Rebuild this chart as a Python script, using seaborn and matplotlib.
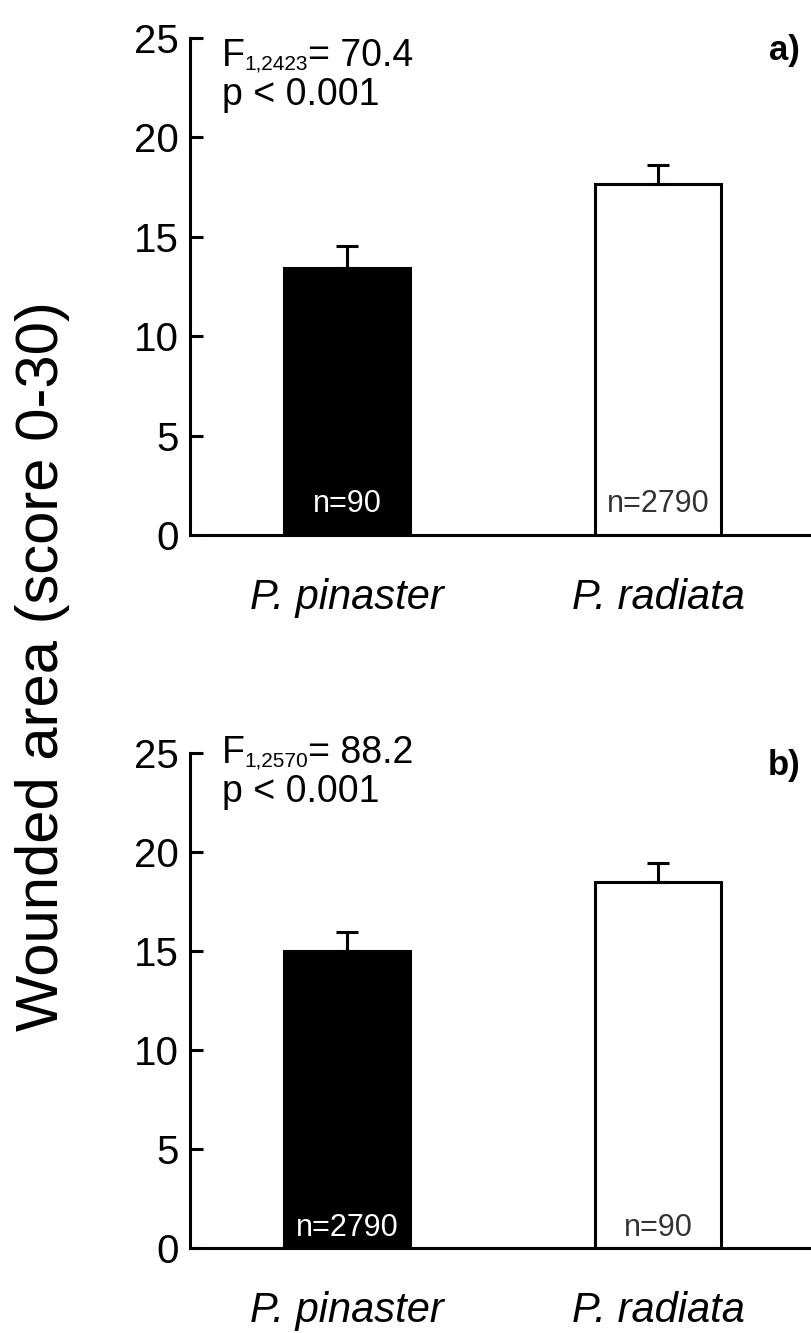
import matplotlib
matplotlib.use("Agg")
import matplotlib.pyplot as plt
import seaborn as sns
import pandas as pd

# data
species = ["P. pinaster", "P. radiata"]
bar_colors = ["black", "white"]
n_color = ["white", "#333333"]

mean_a = [13.45, 17.65]
upper_a = [14.55, 18.6]
n_a = ["n=90", "n=2790"]
sub_a = "1,2423"
val_a = "= 70.4"

mean_b = [15.0, 18.5]
upper_b = [15.97, 19.45]
n_b = ["n=2790", "n=90"]
sub_b = "1,2570"
val_b = "= 88.2"

sns.set_style("white")
plt.rcParams["font.family"] = ["Liberation Sans", "DejaVu Sans"]
for key in ["text.color", "axes.labelcolor", "xtick.color", "ytick.color"]:
    plt.rcParams[key] = "black"


def panel(ax, means, uppers, ns, n_y, sub, val, tag, f_y, p_y):
    df = pd.DataFrame({"species": species, "mean": means})
    sns.barplot(data=df, x="species", y="mean", hue="species",
                palette=bar_colors, edgecolor="black", linewidth=2.2,
                width=0.405, legend=False, ax=ax)
    errs = [u - m for u, m in zip(uppers, means)]
    ax.errorbar(range(len(species)), means, yerr=[[0] * len(errs), errs],
                fmt="none", ecolor="black", elinewidth=2.2, capsize=8,
                capthick=2.2)
    for i, txt in enumerate(ns):
        ax.text(i, n_y, txt, ha="center", va="baseline", fontsize=22,
                color=n_color[i])
    ax.set_ylim(0, 25)
    ax.set_xlim(-0.505, 1.495)
    ax.set_yticks([0, 5, 10, 15, 20, 25])
    ax.set_xlabel("")
    ax.set_ylabel("")
    ax.tick_params(axis="y", direction="in", length=9, width=2.2,
                   labelsize=29, pad=8, left=True)
    ax.tick_params(axis="x", length=0, labelsize=30, pad=31)
    for lab in ax.get_xticklabels():
        lab.set_style("italic")
    for s in ["top", "right"]:
        ax.spines[s].set_visible(False)
    for s in ["left", "bottom"]:
        ax.spines[s].set_linewidth(2.2)
        ax.spines[s].set_color("black")

    # F statistic with a small subscript, then p value
    t1 = ax.text(0.051, f_y, "F", transform=ax.transAxes, ha="left",
                 va="baseline", fontsize=27)
    t2 = ax.annotate(sub, xy=(1, 0), xycoords=t1, ha="left", va="bottom",
                     fontsize=15)
    ax.annotate(val, xy=(1, 0), xycoords=(t2, t1), ha="left", va="bottom",
                fontsize=27)
    ax.text(0.051, p_y, "p < 0.001", transform=ax.transAxes, ha="left",
            va="baseline", fontsize=27)
    ax.text(0.955, 0.975, tag, transform=ax.transAxes, ha="center",
            va="center", fontsize=25, fontweight="bold")


fig = plt.figure(figsize=(8.12, 13.33), dpi=100)
ax1 = fig.add_axes([0.234, 0.5986, 0.766, 0.3729])
ax2 = fig.add_axes([0.234, 0.0638, 0.766, 0.3713])
panel(ax1, mean_a, upper_a, n_a, 1.15, sub_a, val_a, "a)", 0.944, 0.865)
panel(ax2, mean_b, upper_b, n_b, 0.6, sub_b, val_b, "b)", 0.980, 0.901)

fig.text(0.052, 0.5, "Wounded area (score 0-30)", rotation=90,
         ha="center", va="center", fontsize=43)

fig.savefig("out.png", dpi=100)
